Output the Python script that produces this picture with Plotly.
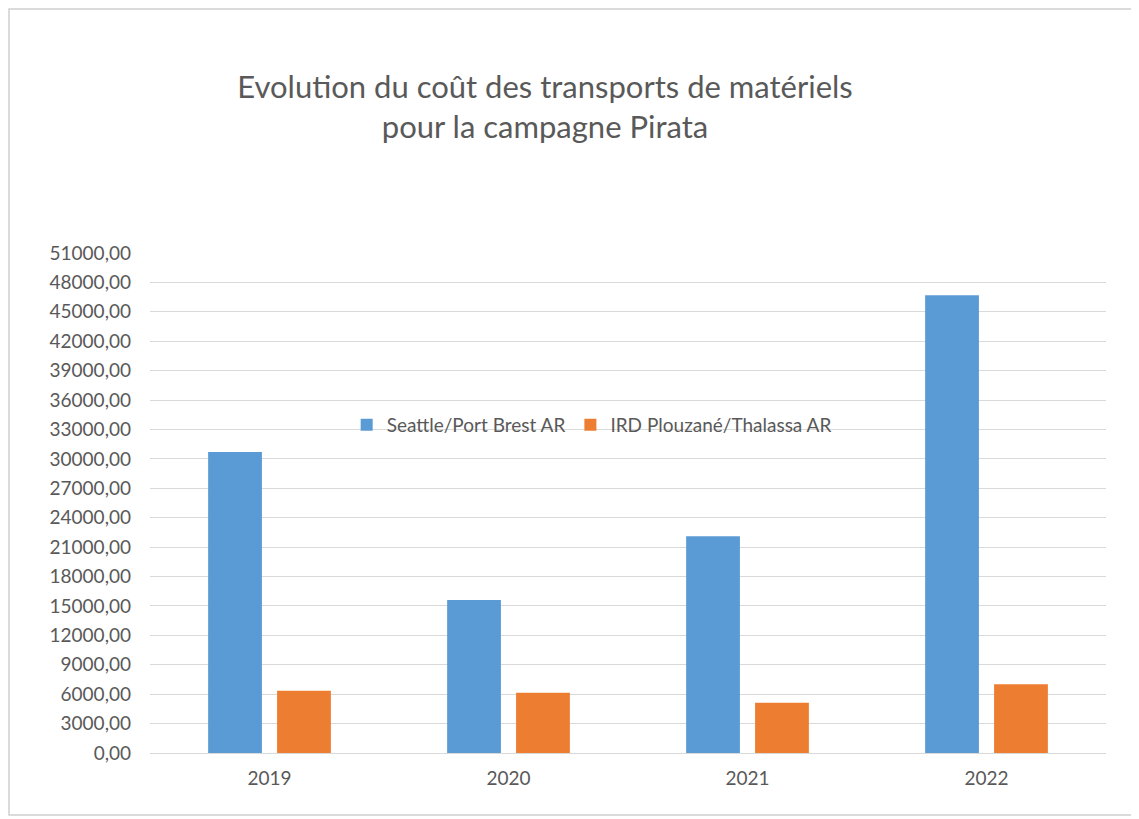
import plotly.graph_objects as go

# data
years = ["2019", "2020", "2021", "2022"]
seattle_brest = [30700, 15600, 22100, 46700]
ird_thalassa = [6350, 6150, 5130, 7000]
y_ticks = list(range(0, 51001, 3000))

BLUE = "#5B9BD5"
ORANGE = "#ED7D31"
GREY = "#595959"
FONT = "Lato, 'Open Sans', sans-serif"

# the page body has an 8px margin, so the figure is drawn 8px smaller and shifted
OFF = 8
W, H = 1139 - OFF, 819 - OFF
ml, mr, mt, mb = 150 - OFF, 33, 253 - OFF, 66

fig = go.Figure()
fig.add_trace(go.Bar(x=years, y=seattle_brest, name="Seattle/Port Brest AR",
                     marker=dict(color=BLUE, line=dict(width=0))))
fig.add_trace(go.Bar(x=years, y=ird_thalassa, name="IRD Plouzané/Thalassa AR",
                     marker=dict(color=ORANGE, line=dict(width=0))))

# chart border, like the office chart frame
pw, ph = W - ml - mr, H - mt - mb
fig.add_shape(type="rect", xref="paper", yref="paper", layer="below",
              x0=(1 - ml) / pw, x1=(1132 - OFF - ml) / pw,
              y0=(H - mb - (815 - OFF)) / ph, y1=(H - mb - 1) / ph,
              line=dict(color="#d0d0d0", width=1.5), fillcolor="rgba(0,0,0,0)")

fig.update_layout(
    width=W, height=H,
    margin=dict(l=ml, r=mr, t=mt, b=mb),
    paper_bgcolor="white", plot_bgcolor="white",
    separators=",.",
    font=dict(family=FONT, color=GREY, size=19),
    title=dict(text="Evolution du coût des transports de matériels<br>pour la campagne Pirata",
               x=(545 - OFF) / W, xanchor="center", y=1 - (98 - OFF) / H, yanchor="middle",
               font=dict(family=FONT, size=31, color=GREY)),
    barmode="group", bargap=0.423, bargroupgap=0.22,
    showlegend=True,
    legend=dict(orientation="h", x=0.462, xanchor="center", y=0.656, yanchor="middle",
                bgcolor="rgba(0,0,0,0)", font=dict(size=19, color=GREY),
                itemwidth=30, traceorder="normal"),
    xaxis=dict(showgrid=False, showline=True, linecolor="#d9d9d9", linewidth=1,
               ticks="", tickfont=dict(size=19, color=GREY), ticklabelstandoff=8),
    yaxis=dict(range=[0, 51000], tickvals=y_ticks, tickformat=".2f",
               showgrid=True, gridcolor="#d9d9d9", gridwidth=1, zeroline=False,
               showline=False, ticks="", ticklabelstandoff=18,
               tickfont=dict(size=19, color=GREY)),
)

fig.write_html("out.html")
